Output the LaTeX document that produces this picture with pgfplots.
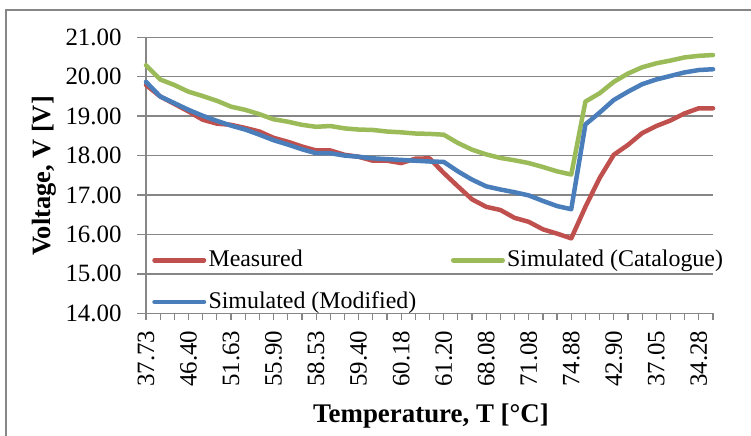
\documentclass[border=0pt]{standalone}
\usepackage{pgfplots}
\pgfplotsset{compat=1.18}
\usepackage{pgfplotstable}
\usepackage{fontspec}
\setmainfont{Liberation Serif}

\definecolor{measured}{RGB}{192,80,77}
\definecolor{catalogue}{RGB}{155,187,89}
\definecolor{modified}{RGB}{74,126,187}
\definecolor{gridgray}{RGB}{134,134,134}

% module voltage along the temperature sequence (index = sample number)
\pgfplotstableread{
i  meas   cat    mod
0  19.79  20.29  19.87
1  19.50  19.93  19.50
2  19.31  19.79  19.33
3  19.12  19.62  19.16
4  18.91  19.51  19.01
5  18.81  19.39  18.88
6  18.78  19.24  18.76
7  18.70  19.16  18.66
8  18.61  19.05  18.53
9  18.45  18.92  18.39
10 18.35  18.86  18.28
11 18.23  18.78  18.16
12 18.13  18.73  18.06
13 18.13  18.75  18.06
14 18.02  18.69  18.00
15 17.97  18.66  17.97
16 17.87  18.65  17.93
17 17.87  18.61  17.91
18 17.81  18.59  17.89
19 17.92  18.56  17.87
20 17.93  18.55  17.85
21 17.56  18.53  17.84
22 17.22  18.32  17.60
23 16.89  18.15  17.39
24 16.70  18.03  17.22
25 16.62  17.94  17.14
26 16.42  17.88  17.07
27 16.32  17.81  16.99
28 16.13  17.71  16.85
29 16.02  17.60  16.72
30 15.90  17.52  16.64
31 16.70  19.37  18.79
32 17.43  19.58  19.09
33 18.02  19.87  19.41
34 18.27  20.08  19.62
35 18.57  20.24  19.81
36 18.75  20.34  19.93
37 18.89  20.41  20.02
38 19.07  20.49  20.11
39 19.20  20.53  20.17
40 19.20  20.55  20.19
}\voltdata

\begin{document}
\begin{tikzpicture}[x=1bp,y=1bp]
% chart frame
\draw[gridgray, line width=1.5bp] (6,-20) -- (6,426) -- (780,426);

\begin{axis}[
  at={(146bp,122.7bp)}, anchor=south west,
  scale only axis, width=567bp, height=276bp,
  xmin=0, xmax=40, ymin=14, ymax=21,
  clip=false,
  axis x line*=bottom, axis y line*=left,
  axis line style={gridgray, line width=1.5bp},
  xtick={0,...,40},
  xticklabels={37.73,,,46.40,,,51.63,,,55.90,,,58.53,,,59.40,,,60.18,,,61.20,,,68.08,,,71.08,,,74.88,,,42.90,,,37.05,,,34.28,},
  ytick={14,...,21},
  yticklabels={14.00,15.00,16.00,17.00,18.00,19.00,20.00,21.00},
  ymajorgrids,
  grid style={gridgray, line width=1.5bp},
  tick align=outside,
  xtick style={gridgray, line width=1.2bp, /pgfplots/major tick length=7bp},
  ytick style={gridgray, line width=1.5bp, /pgfplots/major tick length=9bp},
  /pgf/number format/assume math mode=true,
  tick label style={font=\fontsize{25}{29}\selectfont, text=black},
  xticklabel style={rotate=90, anchor=east, inner sep=0pt},
  yticklabel style={anchor=east, inner sep=0pt},
  xticklabel shift=13bp,
  yticklabel shift=20bp,
  legend columns=2,
  legend cell align=left,
  legend image code/.code={\draw[#1, line cap=round] (0bp,0bp) -- (49.5bp,0bp);},
  legend style={draw=none, fill=none, inner sep=0pt, outer sep=0pt,
    at={(axis description cs:0.01102,0.2337)}, anchor=north west,
    font=\fontsize{24}{28}\selectfont,
    nodes={inner sep=0pt, text height=18bp, text depth=5bp},
    row sep=18.7bp,
    /tikz/every odd column/.style={column sep=2.25bp},
    /tikz/every even column/.style={column sep=34.6bp}},
  every axis plot/.append style={line width=4.5bp, line cap=round, line join=round},
]
\addplot[measured]  table[x=i, y=meas] {\voltdata};
\addplot[catalogue] table[x=i, y=cat]  {\voltdata};
\addplot[modified]  table[x=i, y=mod]  {\voltdata};
\legend{Measured, Simulated (Catalogue), Simulated (Modified)}
\end{axis}

\node[font=\bfseries\fontsize{27}{31}\selectfont, anchor=base] at (431,13.3) {Temperature, T [°C]};
\node[font=\bfseries\fontsize{26.5}{30}\selectfont, rotate=90, anchor=base] at (50,260) {Voltage, V [V]};

\pgfresetboundingbox
\useasboundingbox (0,0) rectangle (751,436);
\end{tikzpicture}
\end{document}
